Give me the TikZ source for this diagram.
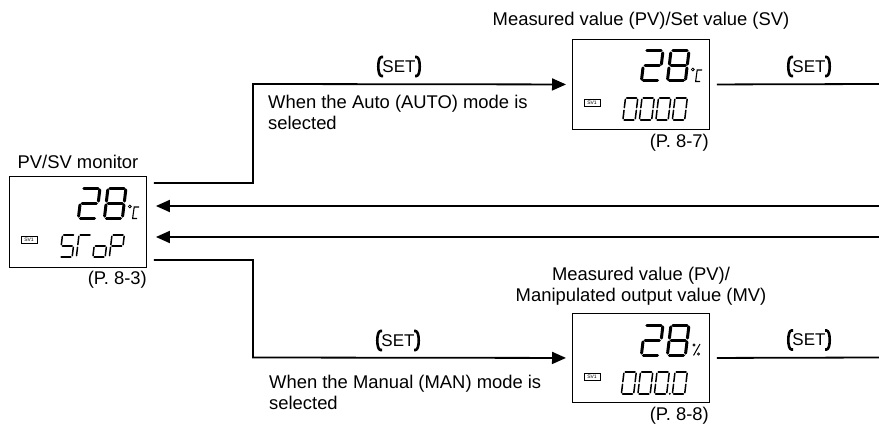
\documentclass[tikz,border=0pt]{standalone}
\usepackage{fontspec}
\setmainfont{Liberation Sans}
\usetikzlibrary{arrows.meta,calc}
\newcommand\DgW{12}\newcommand\DgH{20}\newcommand\DgG{1.3}
\newcommand\SegA{\draw[seg] (\DgG,0)--({\DgW-\DgG},0);}
\newcommand\SegB{\draw[seg] (\DgW,\DgG)--(\DgW,{\DgH/2-\DgG});}
\newcommand\SegC{\draw[seg] (\DgW,{\DgH/2+\DgG})--(\DgW,{\DgH-\DgG});}
\newcommand\SegD{\draw[seg] (\DgG,\DgH)--({\DgW-\DgG},\DgH);}
\newcommand\SegE{\draw[seg] (0,{\DgH/2+\DgG})--(0,{\DgH-\DgG});}
\newcommand\SegF{\draw[seg] (0,\DgG)--(0,{\DgH/2-\DgG});}
\newcommand\SegG{\draw[seg] (\DgG,{\DgH/2})--({\DgW-\DgG},{\DgH/2});}
\newcommand\Dig[3]{\begin{scope}[shift={(#1,#2)},xslant=0.12]\foreach \s in {#3}{\csname Seg\s\endcsname}\end{scope}}
\newcommand\BigSize{\renewcommand\DgW{18}\renewcommand\DgH{30}\renewcommand\DgG{1.9}\tikzset{seg/.style={line width=3pt,line cap=round}}}
\newcommand\SmallSize{\renewcommand\DgW{12.3}\renewcommand\DgH{22}\renewcommand\DgG{1.3}\tikzset{seg/.style={line width=1.5pt,line cap=round}}}
\newcommand\SvIcon{\node[draw,line width=0.5pt,minimum width=16pt,minimum height=7pt,inner sep=0,font=\fontsize{5}{5}\selectfont] at (20,63.5) {SV1};}
\newcommand\DegC{\draw[line width=0.8pt] (120.8,30.5) circle (1.4);
 \draw[line width=1.1pt] (130,31) -- (125.2,31) -- (123.6,42.5) -- (128.2,42.5);}
\newcommand\SetKey[2]{\node[setkey] (#1) at (#2) {SET};
 \begin{scope}[shift={(#1.center)}]
 \draw[setbr] (-16,-9.5) -- (-17.5,-9.5) .. controls (-21.8,-9.5) and (-21.8,9.5) .. (-17.5,9.5) -- (-16,9.5);
 \draw[setbr] (16,-9.5) -- (17.5,-9.5) .. controls (21.8,-9.5) and (21.8,9.5) .. (17.5,9.5) -- (16,9.5);
 \end{scope}}
\tikzset{
 disp/.style={draw,line width=0.9pt,minimum width=137pt,minimum height=90pt,inner sep=0,anchor=north west},
 lbl/.style={font=\fontsize{18.4}{21.5}\selectfont,inner sep=0},
 conn/.style={line width=1.8pt},
 arr/.style={-{Triangle[length=14pt,width=12pt]}},
 setkey/.style={font=\fontsize{17}{17}\selectfont,inner sep=0},
 setbr/.style={line width=2.6pt,line cap=butt},
 seg/.style={line width=1.5pt,line cap=round}
}
\begin{document}
\begin{tikzpicture}[x=1pt,y=-1pt]
\useasboundingbox (0,0) rectangle (879,428);
% display boxes
\node[disp,minimum width=137pt,minimum height=91pt] (mon) at (9,176) {};
\node[disp] (pvsv) at (572,39) {};
\node[disp,minimum height=89pt] (pvmv) at (572,313) {};
% monitor contents
\begin{scope}[shift={(mon.north west)}]
 \BigSize \Dig{73}{12}{A,B,G,E,D}\Dig{99}{12}{A,B,C,D,E,F,G}
 \DegC
 \SvIcon
 \SmallSize \Dig{53.5}{59}{A,F,G,C,D}\Dig{70}{59}{A,F,E}\Dig{86.5}{59}{G,C,D,E}\Dig{103}{59}{A,B,F,G,E}
\end{scope}
\begin{scope}[shift={(pvsv.north west)}]
 \BigSize \Dig{73}{12}{A,B,G,E,D}\Dig{99}{12}{A,B,C,D,E,F,G}
 \DegC
 \SvIcon
 \SmallSize \Dig{53.5}{59}{A,B,C,D,E,F}\Dig{70}{59}{A,B,C,D,E,F}\Dig{86.5}{59}{A,B,C,D,E,F}\Dig{103}{59}{A,B,C,D,E,F}
\end{scope}
\begin{scope}[shift={(pvmv.north west)}]
 \BigSize \Dig{73}{12}{A,B,G,E,D}\Dig{99}{12}{A,B,C,D,E,F,G}
 \draw[line width=0.7pt] (122,32) circle (1.2);
 \draw[line width=1pt] (128,31) -- (121.5,42.5);
 \draw[line width=0.7pt] (126.5,41) circle (1.2);
 \SvIcon
 \SmallSize \Dig{52}{59}{A,B,C,D,E,F}\Dig{68.5}{59}{A,B,C,D,E,F}\Dig{85}{59}{A,B,C,D,E,F}\Dig{103}{59}{A,B,C,D,E,F}
 \fill (97.8,80.8) circle (1.1);
\end{scope}
% labels
\node[lbl,anchor=base] (monlbl) at (78,168) {PV/SV monitor};
\node[lbl,anchor=base] (pvsvlbl) at (641,26) {Measured value (PV)/Set value (SV)};
\node[lbl,anchor=south,align=center] (pvmvlbl) at (641,306) {Measured value (PV)/\\Manipulated output value (MV)};
\node[lbl,anchor=base east] (p83) at (147,284) {(P. 8-3)};
\node[lbl,anchor=base east] (p87) at (709,147) {(P. 8-7)};
\node[lbl,anchor=base east] (p88) at (709,420) {(P. 8-8)};
\node[lbl,anchor=north west,align=left] (auto) at (268,94.6) {When the Auto (AUTO) mode is\\selected};
\node[lbl,anchor=north west,align=left] (man) at (269,374.6) {When the Manual (MAN) mode is\\selected};
% coordinates
\coordinate (m1) at ([shift={(7pt,-7pt)}]mon.north east);
\coordinate (m4) at ([shift={(7pt,8pt)}]mon.south east);
\coordinate (j1) at (253,84);
\coordinate (j2) at (253,357.5);
\coordinate (r1) at (879,84);
\coordinate (r2) at (879,206);
\coordinate (r3) at (879,237);
\coordinate (r4) at (879,357.5);
% connectors
\draw[conn,arr] (m1) -| (j1) -- ([xshift=-6pt]pvsv.west);
\draw[conn,arr] (m4) -| (j2) -- ([xshift=-6pt]pvmv.west);
\draw[conn] ([xshift=7pt]pvsv.east) -- (r1);
\draw[conn] ([xshift=7pt]pvmv.east) -- (r4);
\draw[conn,arr] (r2) -- ($(r2 -| mon.east)+(9,0)$);
\draw[conn,arr] (r3) -- ($(r3 -| mon.east)+(9,0)$);
% SET keys
\SetKey{k1}{399,66.5}
\SetKey{k2}{398,340.5}
\SetKey{k3}{809,66.5}
\SetKey{k4}{809,340}
\end{tikzpicture}
\end{document}
